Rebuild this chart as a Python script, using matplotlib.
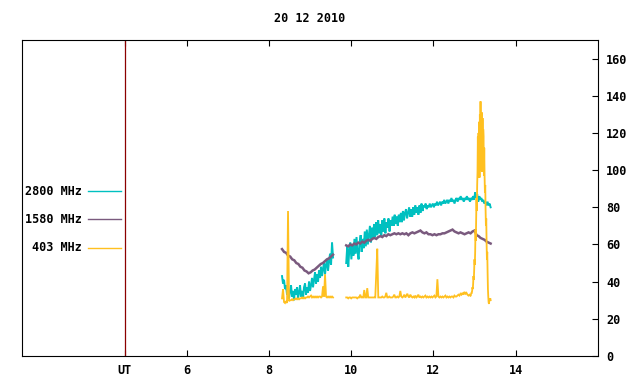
import numpy as np
import matplotlib
matplotlib.use("Agg")
import matplotlib.pyplot as plt

title = "20 12 2010"
labels = ["2800 MHz", "1580 MHz", "403 MHz"]
colors = ["#00c0c0", "#7a5a7e", "#ffc020"]
xticks = [4.5, 6, 8, 10, 12, 14]
xticklabels = ["UT", "6", "8", "10", "12", "14"]
yticks = [0, 20, 40, 60, 80, 100, 120, 140, 160]
ut_line = 4.5

# segment time spans (UT hours)
seg1_span = (8.32, 9.56)
seg2_span = (9.88, 13.39)
base2_span = (9.88, 12.90)
burst_span = (12.90, 13.39)

# 2800 MHz
c2800_seg1 = [43, 39, 41, 36, 38, 33, 36, 31, 35, 38, 32, 35, 30, 36, 33, 37, 31, 34, 38, 32,
              35, 31, 37, 39, 33, 37, 34, 40, 35, 38, 42, 37, 41, 45, 39, 44, 40, 46, 42, 48,
              43, 47, 50, 44, 49, 52, 46, 51, 55, 49, 61, 53]
c2800_seg2 = [50, 59, 48, 57, 61, 52, 60, 54, 63, 55, 64, 56, 52, 61, 65, 56, 63, 58, 67, 59,
              68, 60, 65, 70, 61, 69, 63, 71, 64, 72, 65, 73, 66, 71, 64, 73, 67, 74, 66, 72,
              69, 74, 67, 73, 70, 75, 70, 76, 71, 75, 70, 76, 72, 77, 72, 78, 73, 77, 79, 74,
              77, 80, 75, 79, 75, 80, 76, 81, 77, 80, 76, 81, 77, 82, 78, 81,
              80, 82, 79, 81, 80, 82, 80, 81, 82, 80, 82, 81, 83, 81, 82, 83, 81, 83, 82, 84,
              82, 83, 84, 82, 84, 83, 85, 83, 84, 82, 84, 85, 83, 85, 84, 86, 84, 85, 83, 85,
              84, 86, 84, 85, 83, 85, 84, 86, 84, 88, 85, 87, 83, 86, 84, 85, 83, 84, 82, 83,
              81, 83, 81, 82, 80]

# 1580 MHz
c1580_seg1 = [57.5, 56, 55.5, 54, 53.5, 52, 51.5, 50, 49.5, 48, 47.5, 46, 45.5, 44.5, 45, 46,
              46.5, 47.5, 48.5, 49.5, 50, 51, 52, 52.5, 53.5, 54.5]
c1580_seg2 = [59.5, 59, 60, 59.5, 60.5, 60, 61, 60.5, 61.5, 61, 62, 62.5, 62, 63, 63.5, 63,
              64, 64.5, 64, 65, 64.5, 65.5, 65, 65.5, 66, 65.5, 66, 65.5, 66, 65.5, 66, 65,
              66, 66.5, 66, 66.5, 67, 67.5, 66.5, 66, 66.5, 65.5, 65.5, 65, 65.5, 65, 65.5, 65.5,
              66, 66, 66.5, 67, 67.5, 68, 67, 66.5, 66, 66.5, 66, 65.5, 66, 66.5, 66, 67,
              67.5, 65, 64.5, 63.5, 63, 62.5, 61.5, 61, 60.5]

# 403 MHz
c403_seg1 = [31, 36, 29, 28.5, 29.5, 28.5, 78, 29.5, 30, 30, 30.5, 30, 30.5, 30.5, 31, 30.5,
             31, 30.5, 31, 31, 31.5, 31, 31.5, 31, 31.5, 31.5, 32, 31.5, 32, 32.5, 31.5, 32,
             31.5, 32, 31.5, 32, 31.5, 32, 32, 31.5, 32, 37.5, 32, 44, 32, 31.5, 32, 31.5,
             32, 31.5, 32, 31.5]
c403_base2 = [31.5, 31.5, 31, 31.5, 31.5, 31, 31.5, 31.5, 31.5, 31.5, 31.5, 31, 31.5, 31.5, 33, 31.5,
              31.5, 31.5, 35.5, 31.5, 31.5, 36.5, 31.5, 31.5, 31.5, 31.5, 31.5, 31.5, 31.5, 31.5, 44.5, 57.7,
              31.5, 31.5, 31.5, 31.5, 32, 31.5, 31.5, 32, 34, 31.5, 31.5, 32, 31.5, 31.5, 31.5, 32,
              33, 31.5, 31.5, 32, 31.5, 32, 35, 32, 31.5, 32, 33, 31.5, 32.5, 33.5, 32, 31.5,
              33, 32, 31.5, 32, 31.5, 32.5, 31.5, 32, 33, 31.5, 32, 31.5, 32, 31.5, 32, 32.5,
              31.5, 32, 31.5, 32, 31.5, 32, 31.5, 32, 32.5, 31.5, 32, 41.3, 32, 31.5, 32, 31.5,
              32, 31.5, 32, 32.5, 31.5, 32, 31.5, 32, 31.5, 32, 32, 31.5, 32.5, 32, 32, 32.5,
              33, 32.5, 33.5, 33, 34, 33, 34.5, 33.5, 34, 33, 32.5, 33, 32.5]
c403_burst = [32.5, 33, 33.5,
              34, 34, 35,
              37, 36, 39,
              43, 41, 46,
              52, 49, 56,
              68, 62, 74,
              85, 78, 92,
              99, 118, 96,
              120, 98, 126,
              96, 130, 100,
              137, 104, 129,
              110, 131, 99,
              128, 103, 122,
              118, 97, 112,
              97, 88, 92,
              79, 70, 74,
              61, 52, 56,
              45, 36, 32,
              29, 28, 30,
              30.5, 30, 31,
              30]

series = [
    [(c2800_seg1, seg1_span), (c2800_seg2, seg2_span)],
    [(c1580_seg1, seg1_span), (c1580_seg2, seg2_span)],
    [(c403_seg1, seg1_span), (c403_base2, base2_span), (c403_burst, burst_span)],
]

mono = ["DejaVu Sans Mono"]
plt.rcParams["font.family"] = mono
plt.rcParams["font.weight"] = "bold"
fs = 8.5

fig = plt.figure(figsize=(6.4, 3.84), dpi=100)
ax = fig.add_axes([22 / 640, 28 / 384, 576 / 640, 316 / 384])

ax.set_xlim(2, 16)
ax.set_ylim(0, 170)

lws = [1.4, 1.8, 1.3]
for segs, col, lw in zip(series, colors, lws):
    for seg, span in segs:
        t = np.linspace(span[0], span[1], len(seg))
        ax.plot(t, seg, color=col, lw=lw, solid_joinstyle="miter")

ax.axvline(ut_line, color="#8b0000", lw=0.9)

# legend (text left of sample line)
ys = [0.522, 0.4335, 0.3418]
for lab, col, yy in zip(labels, colors, ys):
    ax.text(0.104, yy, lab, transform=ax.transAxes, ha="right", va="center",
            fontsize=fs, fontweight="bold")
    ax.plot([0.1146, 0.1719], [yy, yy], transform=ax.transAxes, color=col, lw=1.0)

ax.set_xticks(xticks)
ax.set_xticklabels(xticklabels)
ax.set_yticks(yticks)
ax.yaxis.tick_right()
ax.tick_params(axis="y", direction="in", length=4, width=0.8, labelsize=fs, pad=6,
               left=False, right=True)
ax.tick_params(axis="x", direction="in", length=4, width=0.8, labelsize=fs, pad=6,
               top=True, bottom=True)
for lab in ax.get_xticklabels() + ax.get_yticklabels():
    lab.set_fontweight("bold")
for sp in ax.spines.values():
    sp.set_linewidth(0.8)

fig.text(310 / 640, 1 - 19 / 384, title, ha="center", va="center", fontsize=fs,
         fontweight="bold")

fig.savefig("out.png", dpi=100)
